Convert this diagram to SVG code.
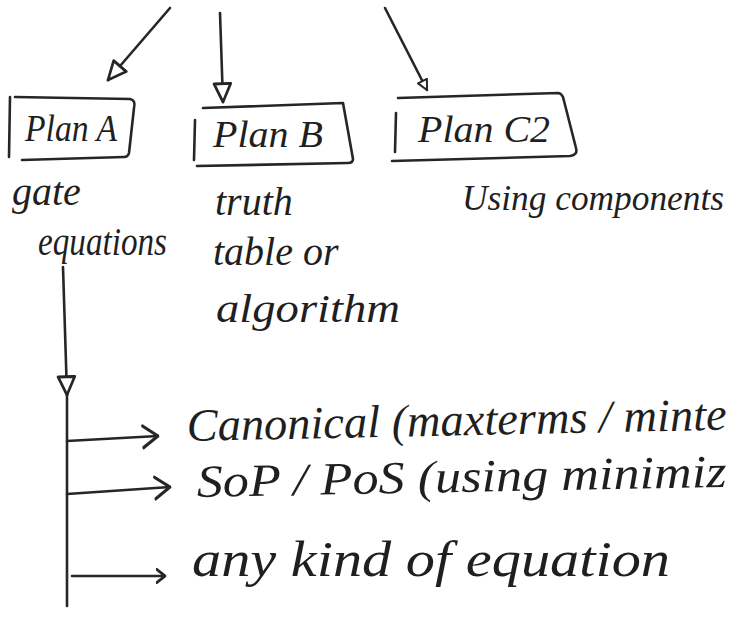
<svg xmlns="http://www.w3.org/2000/svg" width="735" height="636" viewBox="0 0 735 636">
  <style>
    .ink { fill: none; stroke: #262626; stroke-width: 2.6; stroke-linecap: round; stroke-linejoin: round; }
    .txt { font-family: "Liberation Serif", "DejaVu Serif", serif; font-style: italic; fill: #1f1f1f; }
    .lbl { font-size: 38px; }
    .note { font-size: 40px; }
    .item { font-size: 46px; }
  </style>
  <defs>
    <marker id="tri" viewBox="0 0 12 12" refX="11" refY="6" markerUnits="userSpaceOnUse" markerWidth="22" markerHeight="20" orient="auto" preserveAspectRatio="none">
      <path d="M1,1 L11,6 L1,11 Z" fill="#fff" stroke="#262626" stroke-width="1.6" stroke-linejoin="round"/>
    </marker>
    <marker id="triSmall" viewBox="0 0 12 12" refX="11" refY="6" markerUnits="userSpaceOnUse" markerWidth="12" markerHeight="12" orient="auto" preserveAspectRatio="none">
      <path d="M1,1 L11,6 L1,11 Z" fill="#fff" stroke="#262626" stroke-width="2" stroke-linejoin="round"/>
    </marker>
    <marker id="chev" viewBox="0 0 12 12" refX="11" refY="6" markerUnits="userSpaceOnUse" markerWidth="18" markerHeight="26" orient="auto" preserveAspectRatio="none">
      <path d="M1,1 L11,6 L1,11" fill="none" stroke="#262626" stroke-width="1.6" stroke-linecap="round" stroke-linejoin="round"/>
    </marker>
    <marker id="chevSmall" viewBox="0 0 12 12" refX="11" refY="6" markerUnits="userSpaceOnUse" markerWidth="10" markerHeight="16" orient="auto" preserveAspectRatio="none">
      <path d="M1,1 L11,6 L1,11" fill="none" stroke="#262626" stroke-width="2.4" stroke-linecap="round" stroke-linejoin="round"/>
    </marker>
  </defs>
  <rect width="735" height="636" fill="#ffffff"/>

  <g id="connectors">
    <path class="ink" d="M170,8 L108,80" marker-end="url(#tri)"/>
    <path class="ink" d="M220,13 L223,102" marker-end="url(#tri)"/>
    <path class="ink" d="M385,8 L427,90" marker-end="url(#triSmall)"/>
    <path class="ink" d="M63,267 L67,395" marker-end="url(#tri)"/>
    <path class="ink" d="M67,395 L67,606"/>
    <path class="ink" d="M67,441 L158,436" marker-end="url(#chev)"/>
    <path class="ink" d="M67,494 L170,487" marker-end="url(#chev)"/>
    <path class="ink" d="M72,576 L165,576" marker-end="url(#chevSmall)"/>
  </g>

  <g id="planA">
    <path class="ink" d="M10,97 L9,157"/>
    <path class="ink" d="M15,97 L130,99 Q136,100 134,108 L129,153 Q128,157 124,157 L22,160"/>
    <text class="txt lbl" x="25" y="141" textLength="92" lengthAdjust="spacingAndGlyphs">Plan A</text>
  </g>

  <g id="planB">
    <path class="ink" d="M195,120 L194,160"/>
    <path class="ink" d="M203,108 L343,103 L353,159 Q353,163 348,163 L197,166"/>
    <text class="txt lbl" x="213" y="147" textLength="110" lengthAdjust="spacingAndGlyphs">Plan B</text>
  </g>

  <g id="planC2">
    <path class="ink" d="M396,113 L395,152"/>
    <path class="ink" d="M398,98 L558,93 Q561,93 563,97 L576,148 Q578,155 570,156 L392,161"/>
    <text class="txt lbl" x="418" y="142" textLength="132" lengthAdjust="spacingAndGlyphs">Plan C2</text>
  </g>

  <g id="descA">
    <text class="txt note" x="12" y="205">gate</text>
    <text class="txt note" x="38" y="255" textLength="129" lengthAdjust="spacingAndGlyphs">equations</text>
  </g>

  <g id="descB">
    <text class="txt note" x="215" y="215">truth</text>
    <text class="txt note" x="213" y="265">table or</text>
    <text class="txt note" x="216" y="322" textLength="184" lengthAdjust="spacingAndGlyphs">algorithm</text>
  </g>

  <g id="descC2">
    <text class="txt" x="462" y="210" textLength="262" lengthAdjust="spacingAndGlyphs" style="font-size:36px">Using components</text>
  </g>

  <g id="canonical">
    <text class="txt item" x="187" y="441" textLength="540" lengthAdjust="spacingAndGlyphs" transform="rotate(-1.2 187 441)">Canonical (maxterms / minte</text>
  </g>
  <g id="sop">
    <text class="txt item" x="197" y="497" textLength="530" lengthAdjust="spacingAndGlyphs" transform="rotate(-1.1 197 497)">SoP / PoS (using minimiz</text>
  </g>
  <g id="anyeq">
    <text class="txt item" x="192" y="576" textLength="478" lengthAdjust="spacingAndGlyphs" style="font-size:50px">any kind of equation</text>
  </g>
</svg>
